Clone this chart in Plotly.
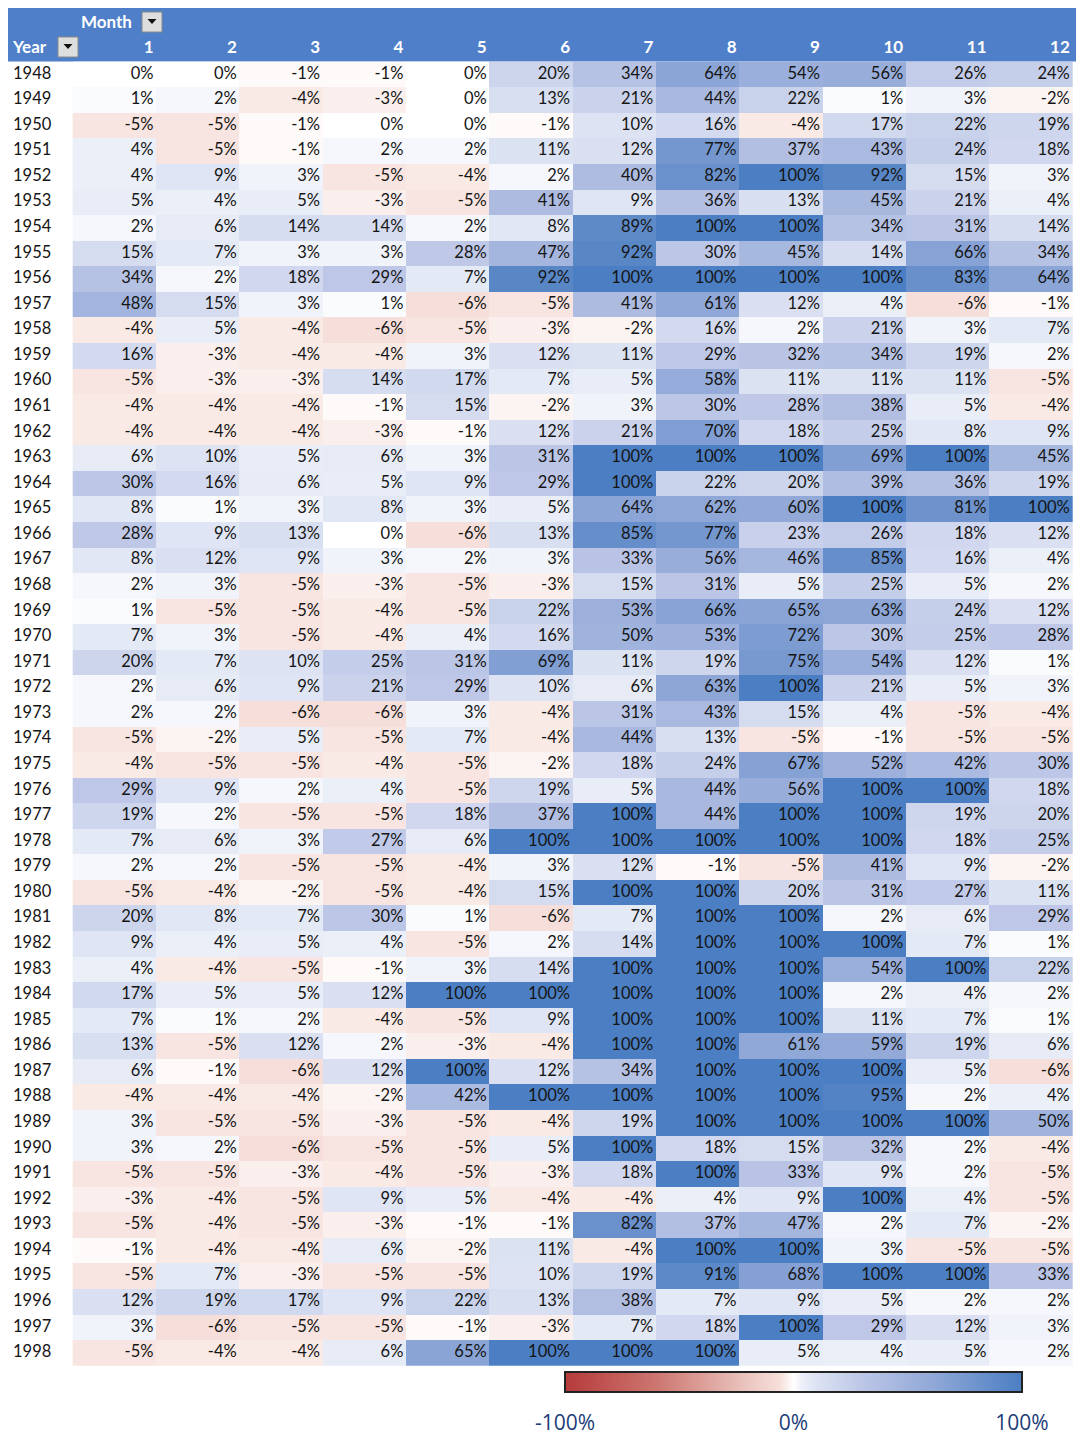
import plotly.graph_objects as go

# ---- data: percent values by month (rows = years 1948..1998) ----
YEARS = list(range(1948, 1999))
MONTHS = list(range(1, 13))

m01 = [0, 1, -5, 4, 4, 5, 2, 15, 34, 48,
       -4, 16, -5, -4, -4, 6, 30, 8, 28, 8,
       2, 1, 7, 20, 2, 2, -5, -4, 29, 19,
       7, 2, -5, 20, 9, 4, 17, 7, 13, 6,
       -4, 3, 3, -5, -3, -5, -1, -5, 12, 3,
       -5]
m02 = [0, 2, -5, -5, 9, 4, 6, 7, 2, 15,
       5, -3, -3, -4, -4, 10, 16, 1, 9, 12,
       3, -5, 3, 7, 6, 2, -2, -5, 9, 2,
       6, 2, -4, 8, 4, -4, 5, 1, -5, -1,
       -4, -5, 2, -5, -4, -4, -4, 7, 19, -6,
       -4]
m03 = [-1, -4, -1, -1, 3, 5, 14, 3, 18, 3,
       -4, -4, -3, -4, -4, 5, 6, 3, 13, 9,
       -5, -5, -5, 10, 9, -6, 5, -5, 2, -5,
       3, -5, -2, 7, 5, -5, 5, 2, 12, -6,
       -4, -5, -6, -3, -5, -5, -4, -3, 17, -5,
       -4]
m04 = [-1, -3, 0, 2, -5, -3, 14, 3, 29, 1,
       -6, -4, 14, -1, -3, 6, 5, 8, 0, 3,
       -3, -4, -4, 25, 21, -6, -5, -4, 4, -5,
       27, -5, -5, 30, 4, -1, 12, -4, 2, 12,
       -2, -3, -5, -4, 9, -3, 6, -5, 9, -5,
       6]
m05 = [0, 0, 0, 2, -4, -5, 2, 28, 7, -6,
       -5, 3, 17, 15, -1, 3, 9, 3, -6, 2,
       -5, -5, 4, 31, 29, 3, 7, -5, -5, 18,
       6, -4, -4, 1, -5, 3, 100, -5, -3, 100,
       42, -5, -5, -5, 5, -1, -2, -5, 22, -1,
       65]
m06 = [20, 13, -1, 11, 2, 41, 8, 47, 92, -5,
       -3, 12, 7, -2, 12, 31, 29, 5, 13, 3,
       -3, 22, 16, 69, 10, -4, -4, -2, 19, 37,
       100, 3, 15, -6, 2, 14, 100, 9, -4, 12,
       100, -4, 5, -3, -4, -1, 11, 10, 13, -3,
       100]
m07 = [34, 21, 10, 12, 40, 9, 89, 92, 100, 41,
       -2, 11, 5, 3, 21, 100, 100, 64, 85, 33,
       15, 53, 50, 11, 6, 31, 44, 18, 5, 100,
       100, 12, 100, 7, 14, 100, 100, 100, 100, 34,
       100, 19, 100, 18, -4, 82, -4, 19, 38, 7,
       100]
m08 = [64, 44, 16, 77, 82, 36, 100, 30, 100, 61,
       16, 29, 58, 30, 70, 100, 22, 62, 77, 56,
       31, 66, 53, 19, 63, 43, 13, 24, 44, 44,
       100, -1, 100, 100, 100, 100, 100, 100, 100, 100,
       100, 100, 18, 100, 4, 37, 100, 91, 7, 18,
       100]
m09 = [54, 22, -4, 37, 100, 13, 100, 45, 100, 12,
       2, 32, 11, 28, 18, 100, 20, 60, 23, 46,
       5, 65, 72, 75, 100, 15, -5, 67, 56, 100,
       100, -5, 20, 100, 100, 100, 100, 100, 61, 100,
       100, 100, 15, 33, 9, 47, 100, 68, 9, 100,
       5]
m10 = [56, 1, 17, 43, 92, 45, 34, 14, 100, 4,
       21, 34, 11, 38, 25, 69, 39, 100, 26, 85,
       25, 63, 30, 54, 21, 4, -1, 52, 100, 100,
       100, 41, 31, 2, 100, 54, 2, 11, 59, 100,
       95, 100, 32, 9, 100, 2, 3, 100, 5, 29,
       4]
m11 = [26, 3, 22, 24, 15, 21, 31, 66, 83, -6,
       3, 19, 11, 5, 8, 100, 36, 81, 18, 16,
       5, 24, 25, 12, 5, -5, -5, 42, 100, 19,
       18, 9, 27, 6, 7, 100, 4, 7, 19, 5,
       2, 100, 2, 2, 4, 7, -5, 100, 2, 12,
       5]
m12 = [24, -2, 19, 18, 3, 4, 14, 34, 64, -1,
       7, 2, -5, -4, 9, 45, 19, 100, 12, 4,
       2, 12, 28, 1, 3, -4, -5, 30, 18, 20,
       25, -2, 11, 29, 1, 22, 2, 1, 6, -6,
       4, 50, -4, -5, -5, -2, -5, 33, 2, 3,
       2]

COLUMNS = [m01, m02, m03, m04, m05, m06, m07, m08, m09, m10, m11, m12]
SCALE_TICKS = [-1, 0, 1]
SCALE_LABELS = ["-100%", "0%", "100%"]

# ---- page geometry (pixels) ----
W, H = 1080, 1432
COL_PX = 83.3          # width of one month column
FIRST_COL_LEFT = 72.7  # left edge of month 1
ROW_PX = 25.57         # height of one year row
FIRST_ROW_MID = 74.5   # centre of the 1948 row

x_lo = 0.5 - FIRST_COL_LEFT / COL_PX
x_hi = x_lo + W / COL_PX
y_top = -FIRST_ROW_MID / ROW_PX
y_bot = y_top + H / ROW_PX


def xpx(px):
    return x_lo + px / COL_PX


def ypx(px):
    return y_top + px / ROW_PX


rows = list(range(len(YEARS)))
z = [[COLUMNS[j][i] / 100 for j in range(12)] for i in rows]

FONT = "Lato"
TXT = "#151515"
HEAD_BLUE = "#4f7fc9"

colorscale = [
    [0.00, "#b63a3b"], [0.20, "#cd7670"], [0.40, "#ebc6c0"],
    [0.47, "#f6dfda"], [0.50, "#ffffff"], [0.52, "#ebeff8"],
    [0.55, "#dde3f3"], [0.65, "#bcc6e6"], [0.80, "#92a9d8"],
    [1.00, "#4b7ec2"],
]

fig = go.Figure()

fig.add_trace(go.Heatmap(
    x=MONTHS, y=rows, z=z,
    zmin=-1, zmax=1, colorscale=colorscale,
    hoverinfo="skip",
    colorbar=dict(
        orientation="h",
        x=793.5 / W, xanchor="center",
        y=1 - 1372 / H, yanchor="top",
        len=457, lenmode="pixels",
        thickness=20, thicknessmode="pixels",
        outlinewidth=2, outlinecolor="#222222",
        xpad=0, ypad=0,
        tickvals=SCALE_TICKS, ticktext=SCALE_LABELS,
        ticks="outside", ticklen=12, tickcolor="rgba(0,0,0,0)",
        tickfont=dict(family="Open Sans", size=21, color="#1d3c78"),
    ),
))

# cell values, right-aligned inside each cell
tx, ty, tt = [], [], []
for j, col in enumerate(COLUMNS):
    for i, v in enumerate(col):
        tx.append(MONTHS[j] + 0.47)
        ty.append(i)
        tt.append(f"{v}%")
fig.add_trace(go.Scatter(
    x=tx, y=ty, text=tt, mode="text", textposition="middle left",
    textfont=dict(family=FONT, size=16.5, color=TXT),
    hoverinfo="skip", showlegend=False,
))

# year labels
fig.add_trace(go.Scatter(
    x=[xpx(13)] * len(YEARS), y=rows, text=[str(y) for y in YEARS],
    mode="text", textposition="middle right",
    textfont=dict(family=FONT, size=16.5, color=TXT),
    hoverinfo="skip", showlegend=False,
))

# header row: month numbers
fig.add_trace(go.Scatter(
    x=[m + 0.47 for m in MONTHS], y=[-1] * 12, text=[str(m) for m in MONTHS],
    mode="text", textposition="middle left",
    textfont=dict(family=FONT, size=17, color="white", weight="bold"),
    hoverinfo="skip", showlegend=False,
))
fig.add_trace(go.Scatter(
    x=[xpx(13), xpx(81)], y=[-1, -2], text=["Year", "Month"],
    mode="text", textposition="middle right",
    textfont=dict(family=FONT, size=17, color="white", weight="bold"),
    hoverinfo="skip", showlegend=False,
))

shapes = [
    dict(type="rect", xref="x", yref="y", layer="below",
         x0=xpx(8), x1=xpx(1076), y0=ypx(8), y1=ypx(61.5),
         fillcolor=HEAD_BLUE, line=dict(width=0)),
]


def dropdown(px_x, px_y):
    box = dict(type="rect", xref="x", yref="y",
               x0=xpx(px_x), x1=xpx(px_x + 20), y0=ypx(px_y), y1=ypx(px_y + 20),
               fillcolor="#dedede", line=dict(color="#8a8a8a", width=1))
    cx, cy = px_x + 10, px_y + 7
    tri = dict(type="path", xref="x", yref="y",
               path=(f"M {xpx(cx - 4.5)} {ypx(cy)} L {xpx(cx + 4.5)} {ypx(cy)} "
                     f"L {xpx(cx)} {ypx(cy + 5)} Z"),
               fillcolor="#111111", line=dict(width=0))
    return [box, tri]


shapes += dropdown(142, 12)
shapes += dropdown(58, 37)

fig.update_layout(
    width=W, height=H,
    margin=dict(l=0, r=0, t=0, b=0, autoexpand=False),
    paper_bgcolor="white", plot_bgcolor="white",
    xaxis=dict(range=[x_lo, x_hi], visible=False, fixedrange=True),
    yaxis=dict(range=[y_bot, y_top], visible=False, fixedrange=True),
    shapes=shapes,
    showlegend=False,
)

fig.write_html("out.html")
